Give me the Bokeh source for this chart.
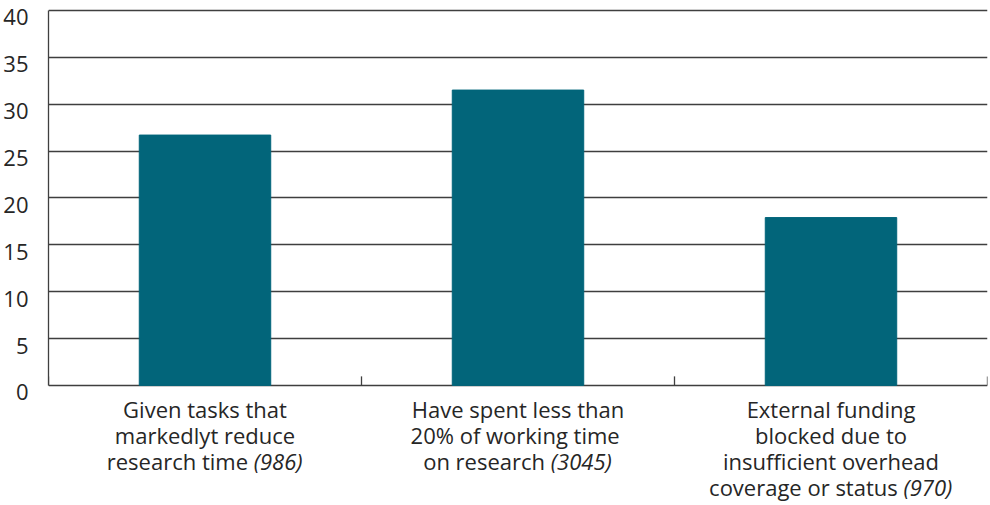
from bokeh.plotting import figure
from bokeh.models import ColumnDataSource, LabelSet, FixedTicker, Range1d, LinearAxis
from bokeh.core.properties import value
from bokeh.embed import file_html
from bokeh.resources import INLINE

# Category descriptions, one entry per wrapped line
category_lines = [
    ["Given tasks that", "markedlyt reduce", "research time"],
    ["Have spent less than", "20% of  working time", "on research"],
    ["External funding", "blocked due to", "insufficient overhead", "coverage or status"],
]
# Number of respondents behind each bar (shown in italics)
respondents = ["(986)", "(3045)", "(970)"]
# Share of respondents, percent
shares = [26.7, 31.5, 17.9]
y_ticks = [0, 5, 10, 15, 20, 25, 30, 35, 40]

FONT = "Open Sans"
FONT_PX = 22
LINE_PX = 26
TEXT_COLOR = "#262626"
BAR_COLOR = "#02657A"
LINE_COLOR = "#3f3f3f"
LINE_W = 1.3

# Canvas layout (pixels)
WIDTH, HEIGHT = 990, 505
BORDER_L, BORDER_R, BORDER_T = 46, 3, 8
PX_PER_UNIT = 9.375           # vertical scale: 40 units over 375 px
Y_TOP = 40.2
FRAME_H = HEIGHT - BORDER_T   # frame reaches the bottom so the category text fits inside it
Y_LOW = Y_TOP - FRAME_H / PX_PER_UNIT
TICK_PX = 9
LABEL_DROP = 0.75             # y tick labels sit a little below their grid lines

# Approximate Open Sans advance widths (em) for centring mixed-style lines
_EM = {
    " ": 0.260, "(": 0.266, ")": 0.266, "%": 0.801,
    "a": 0.556, "b": 0.613, "c": 0.476, "d": 0.613, "e": 0.561, "f": 0.339,
    "g": 0.548, "h": 0.614, "i": 0.253, "k": 0.525, "l": 0.253, "m": 0.930,
    "n": 0.614, "o": 0.604, "p": 0.613, "r": 0.408, "s": 0.477, "t": 0.353,
    "u": 0.614, "v": 0.501, "w": 0.778, "x": 0.524, "y": 0.502,
}


def text_width(s):
    return sum(_EM.get(ch, 0.572 if ch.isdigit() else 0.6) for ch in s) * FONT_PX


SPACE_PX = text_width(" ")

n_cat = len(shares)
centers = [i + 0.5 for i in range(n_cat)]
bounds = list(range(n_cat + 1))

p = figure(
    width=WIDTH, height=HEIGHT,
    x_range=Range1d(0, n_cat), y_range=Range1d(Y_LOW, Y_TOP),
    x_axis_location=None, y_axis_location=None,
    output_backend="svg", toolbar_location=None,
    min_border_left=BORDER_L, min_border_right=BORDER_R,
    min_border_top=BORDER_T, min_border_bottom=0,
)
p.outline_line_color = None
p.background_fill_color = "white"
p.border_fill_color = "white"

# Y axis on a range shifted by LABEL_DROP so the numbers hang just below each line
p.extra_y_ranges = {"labels": Range1d(Y_LOW + LABEL_DROP, Y_TOP + LABEL_DROP)}
yaxis = LinearAxis(y_range_name="labels", ticker=FixedTicker(ticks=y_ticks),
                   bounds=(y_ticks[0] + LABEL_DROP, y_ticks[-1] + LABEL_DROP))
yaxis.axis_line_color = LINE_COLOR
yaxis.axis_line_width = LINE_W
yaxis.major_tick_line_color = None
yaxis.minor_tick_line_color = None
yaxis.major_label_standoff = 14
yaxis.major_label_text_font = FONT
yaxis.major_label_text_font_size = f"{FONT_PX}px"
yaxis.major_label_text_color = TEXT_COLOR
p.add_layout(yaxis, "left")

# Horizontal grid; the line at 0 doubles as the category axis
p.xgrid.grid_line_color = None
p.ygrid.ticker = FixedTicker(ticks=y_ticks)
p.ygrid.grid_line_color = LINE_COLOR
p.ygrid.grid_line_width = LINE_W

p.vbar(x=centers, top=shares, width=0.42, color=BAR_COLOR)

# Tick marks on the category boundaries, pointing up into the plot
p.segment(x0=bounds, y0=[0] * len(bounds), x1=bounds,
          y1=[TICK_PX / PX_PER_UNIT] * len(bounds),
          line_color=LINE_COLOR, line_width=LINE_W)

# Category labels: wrapped lines centred under each bar, the last line
# followed by the italic respondent count
full = dict(x=[], y=[], text=[], dy=[])
last = dict(x=[], y=[], text=[], dy=[], dx=[])
ital = dict(x=[], y=[], text=[], dy=[], dx=[])
for c, lines, n in zip(centers, category_lines, respondents):
    for k, line in enumerate(lines[:-1]):
        full["x"].append(c); full["y"].append(0); full["text"].append(line)
        full["dy"].append(-(33 + LINE_PX * k))
    dy = -(33 + LINE_PX * (len(lines) - 1))
    w_reg = text_width(lines[-1])
    w_ital = text_width(n)
    start = -(w_reg + SPACE_PX + w_ital) / 2
    last["x"].append(c); last["y"].append(0); last["text"].append(lines[-1])
    last["dy"].append(dy); last["dx"].append(start + w_reg)
    ital["x"].append(c); ital["y"].append(0); ital["text"].append(n)
    ital["dy"].append(dy); ital["dx"].append(start + w_reg + SPACE_PX)

common = dict(text_font=value(FONT), text_font_size=value(f"{FONT_PX}px"),
              text_color=value(TEXT_COLOR), text_baseline=value("alphabetic"))
p.add_layout(LabelSet(source=ColumnDataSource(full), x="x", y="y", text="text",
                      y_offset="dy", text_align=value("center"), **common))
p.add_layout(LabelSet(source=ColumnDataSource(last), x="x", y="y", text="text",
                      x_offset="dx", y_offset="dy", text_align=value("right"), **common))
p.add_layout(LabelSet(source=ColumnDataSource(ital), x="x", y="y", text="text",
                      x_offset="dx", y_offset="dy", text_align=value("left"),
                      text_font_style=value("italic"), **common))

open("out.html", "w").write(file_html(p, INLINE))
